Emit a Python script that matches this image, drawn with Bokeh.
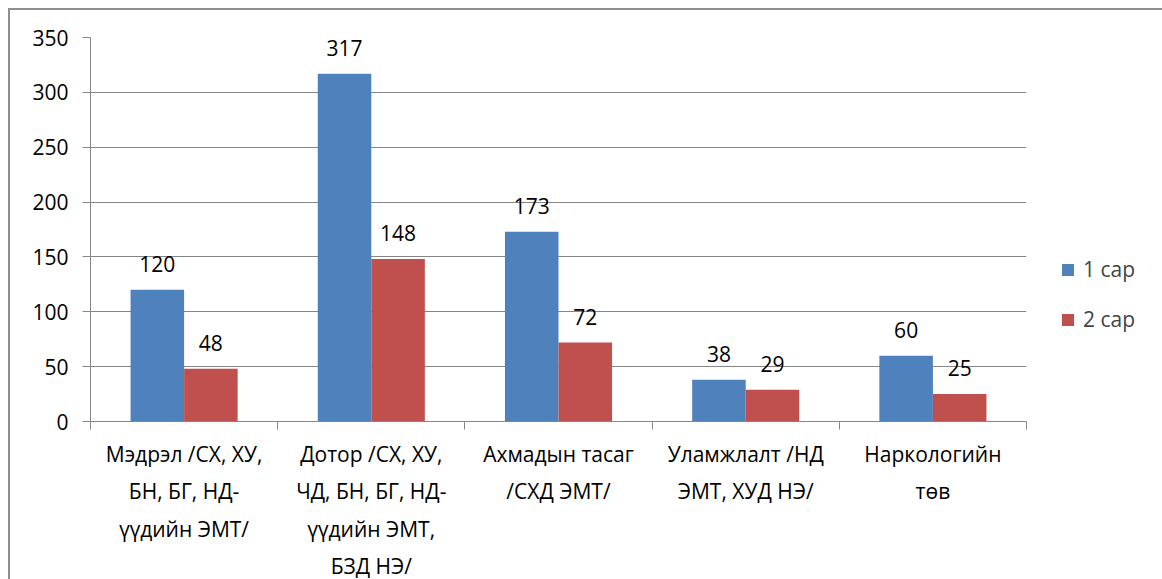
from bokeh.plotting import figure
from bokeh.models import (ColumnDataSource, Range1d, FixedTicker, Legend, LegendItem)
from bokeh.transform import dodge
from bokeh.core.properties import value
from bokeh.embed import file_html
from bokeh.resources import INLINE

categories = [
    "Мэдрэл /СХ, ХУ,\nБН, БГ, НД-\nүүдийн ЭМТ/",
    "Дотор /СХ, ХУ,\nЧД, БН, БГ, НД-\nүүдийн ЭМТ,\nБЗД НЭ/",
    "Ахмадын тасаг\n/СХД ЭМТ/",
    "Уламжлалт /НД\nЭМТ, ХУД НЭ/",
    "Наркологийн\nтөв",
]
series_names = ["1 сар", "2 сар"]
month1 = [120, 317, 173, 38, 60]
month2 = [48, 148, 72, 29, 25]
y_ticks = [0, 50, 100, 150, 200, 250, 300, 350]

FONT = "Open Sans"
FS = "21px"
BLUE = "#4F81BD"
RED = "#C0504D"
GRAY = "#868686"

centers = [i + 0.5 for i in range(len(categories))]
bounds = [float(i) for i in range(len(categories) + 1)]

src = ColumnDataSource(dict(
    x=centers, m1=month1, m2=month2,
    m1s=[str(v) for v in month1], m2s=[str(v) for v in month2],
))

p = figure(frame_width=936, frame_height=384, output_backend="svg", toolbar_location=None,
           x_range=Range1d(0, len(categories)), y_range=Range1d(0, 350),
           min_border_left=80, min_border_top=27, min_border_right=130,
           min_border_bottom=100)
p.styles = {"border-left": "2px solid #8E8E8E", "border-top": "2px solid #8E8E8E",
            "margin-left": "8px", "margin-top": "8px"}
p.outline_line_color = None
p.background_fill_color = "white"
p.border_fill_color = "white"

bw = 0.286
r1 = p.vbar(x=dodge("x", -bw / 2), top="m1", width=bw, source=src,
            fill_color=BLUE, line_color=None)
r2 = p.vbar(x=dodge("x", bw / 2), top="m2", width=bw, source=src,
            fill_color=RED, line_color=None)

p.text(x=dodge("x", -bw / 2), y="m1", text="m1s", source=src, y_offset=-18,
       text_align="center", text_baseline="bottom",
       text_font=value(FONT), text_font_size=FS, text_color="black")
p.text(x=dodge("x", bw / 2), y="m2", text="m2s", source=src, y_offset=-18,
       text_align="center", text_baseline="bottom",
       text_font=value(FONT), text_font_size=FS, text_color="black")

# y axis
p.yaxis.ticker = FixedTicker(ticks=y_ticks)
p.yaxis.axis_line_color = GRAY
p.yaxis.major_tick_line_color = GRAY
p.yaxis.major_tick_out = 8
p.yaxis.major_tick_in = 0
p.yaxis.minor_tick_line_color = None
p.yaxis.major_label_text_font = FONT
p.yaxis.major_label_text_font_size = FS
p.yaxis.major_label_text_color = "black"
p.yaxis.major_label_standoff = 14

# x axis: labels at centres, tick marks at category boundaries
p.xaxis.ticker = FixedTicker(ticks=centers, minor_ticks=bounds)
p.xaxis.major_label_overrides = {c: lab for c, lab in zip(centers, categories)}
p.xaxis.axis_line_color = GRAY
p.xaxis.major_tick_line_color = None
p.xaxis.minor_tick_line_color = GRAY
p.xaxis.minor_tick_out = 8
p.xaxis.minor_tick_in = 0
p.xaxis.major_label_text_font = FONT
p.xaxis.major_label_text_font_size = FS
p.xaxis.major_label_text_color = "black"
p.xaxis.major_label_text_line_height = 1.34
p.xaxis.major_label_standoff = 10

p.xgrid.grid_line_color = None
p.ygrid.ticker = FixedTicker(ticks=y_ticks[1:])
p.ygrid.grid_line_color = GRAY
p.ygrid.grid_line_width = 1

legend = Legend(items=[LegendItem(label=series_names[0], renderers=[r1]),
                       LegendItem(label=series_names[1], renderers=[r2])],
                location=(34, 88), label_text_font=FONT, label_text_font_size=FS,
                glyph_width=15, glyph_height=15, spacing=22, padding=10,
                border_line_color=None, background_fill_alpha=0,
                label_standoff=8)
p.add_layout(legend, "right")

open("out.html", "w").write(file_html(p, INLINE))
